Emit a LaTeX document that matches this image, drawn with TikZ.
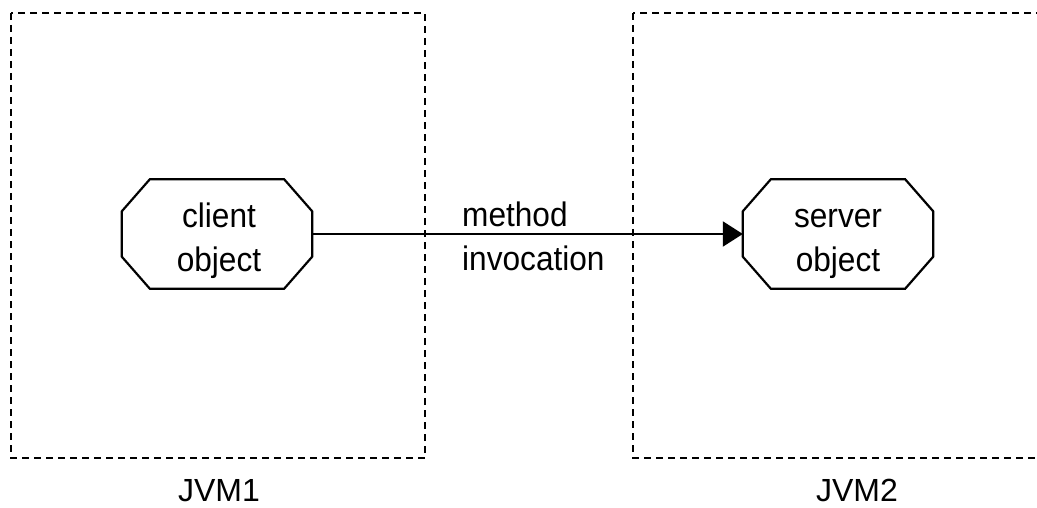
\documentclass[tikz,border=0pt]{standalone}
\usepackage{fontspec}
\setmainfont{Liberation Sans}
\newfontfamily\condfont[FakeStretch=0.93]{Liberation Sans}
\usetikzlibrary{arrows.meta}
\begin{document}
\begin{tikzpicture}[x=1pt,y=-1pt,
  jvmbox/.style={draw,line width=2.8pt,dash pattern=on 7pt off 5pt},
  octbox/.style={rectangle,draw=none,minimum width=190pt,minimum height=109pt,inner sep=0pt},
  octline/.style={line width=2.2pt,line join=miter},
  lbl/.style={font=\fontsize{32}{44}\selectfont,inner sep=0pt},
  clbl/.style={font=\condfont\fontsize{34}{44}\selectfont,inner sep=0pt},
  conn/.style={line width=2.2pt,-{Triangle[length=20pt,width=25pt]}}]
\useasboundingbox (0,0) rectangle (1037,508);
\draw[jvmbox] (11,13) rectangle (425,458);
\draw[jvmbox] (633,13) rectangle (1047,458);
\node[octbox] (client) at (217,234) {};
\node[octbox] (server) at (838,234) {};
\foreach \o in {client,server}{
  \draw[octline] ([xshift=28pt]\o.north west) -- ([xshift=-28pt]\o.north east)
    -- ([yshift=-32pt]\o.north east) -- ([yshift=32pt]\o.south east)
    -- ([xshift=-28pt]\o.south east) -- ([xshift=28pt]\o.south west)
    -- ([yshift=32pt]\o.south west) -- ([yshift=-32pt]\o.north west) -- cycle;
}
\node[clbl,anchor=base,align=center] (clienttxt) at (219,271) {client\\object};
\node[clbl,anchor=base,align=center] (servertxt) at (838,271) {server\\object};
\draw[conn] (client.east) -- (server.west);
\node[clbl,anchor=base west,align=left] (mi) at (462,270) {method\\invocation};
\node[lbl,anchor=base] (jvm1) at (219,501) {JVM1};
\node[lbl,anchor=base] (jvm2) at (857,501) {JVM2};
\end{tikzpicture}
\end{document}
